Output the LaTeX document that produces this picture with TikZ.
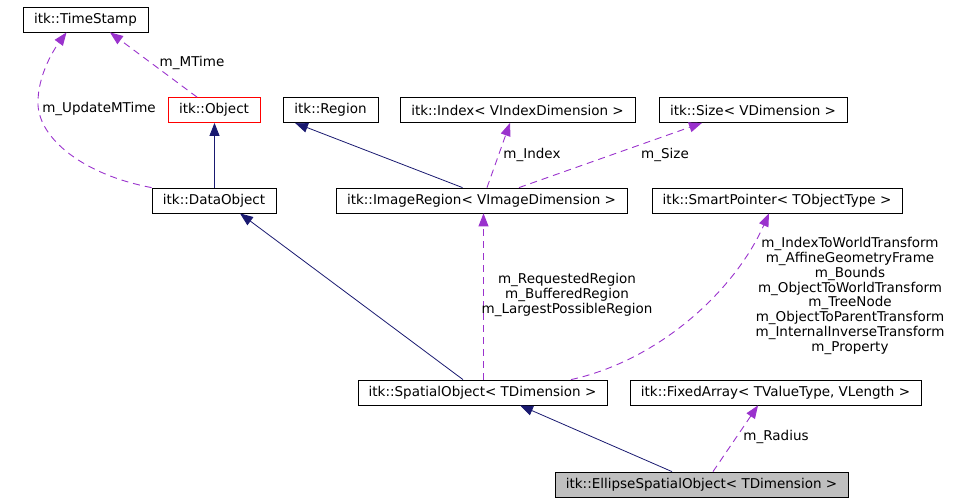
\documentclass[tikz,border=0pt]{standalone}
\usepackage{fontspec}
\setmainfont{DejaVu Sans}
\usepackage{tikz}
\usetikzlibrary{arrows.meta,positioning}
\definecolor{bleu}{HTML}{191970}
\definecolor{mauve}{HTML}{9A32CD}
\definecolor{rouge}{HTML}{FF0000}
\definecolor{gris}{HTML}{BFBFBF}

\begin{document}
\begin{tikzpicture}[x=1pt,y=-1pt,
  n/.style={draw,line width=0.8pt,fill=white,font=\fontsize{13.5}{15}\selectfont,inner xsep=2pt,inner ysep=0pt,minimum height=25pt},
  lab/.style={font=\fontsize{13.5}{14.85}\selectfont,align=center,inner sep=0pt,text=black},
  inh/.style={-{Triangle[length=13pt,width=10pt]},bleu,line width=0.8pt},
  use/.style={-{Triangle[length=13pt,width=10pt]},mauve,line width=0.9pt,dash pattern=on 7pt off 5pt}]
  \useasboundingbox (0,0) rectangle (971,501);
  % ---- rangee 1
  \node[n,minimum width=125pt] (ts) at (85.5,19.5) {itk::TimeStamp};
  \node[n,draw=rouge,minimum width=92pt] (obj) at (214,110) {itk::Object};
  \node[n,minimum width=95pt] (reg) at (330.5,110) {itk::Region};
  \node[n,minimum width=235pt] (idx) at (517.5,110) {itk::Index< VIndexDimension >};
  \node[n,minimum width=188pt] (size) at (753,110) {itk::Size< VDimension >};
  % ---- rangee 2
  \node[n,minimum width=124pt] (dobj) at (214,200.5) {itk::DataObject};
  \node[n,minimum width=291pt] (ireg) at (481.5,200.5) {itk::ImageRegion< VImageDimension >};
  \node[n,minimum width=250pt] (sp) at (777,200.5) {itk::SmartPointer< TObjectType >};
  % ---- rangee 3
  \node[n,minimum width=249pt] (sobj) at (482.5,392.5) {itk::SpatialObject< TDimension >};
  \node[n,minimum width=291pt] (farr) at (775.5,392.5) {itk::FixedArray< TValueType, VLength >};
  \node[n,fill=gris,minimum width=293pt] (ell) at (701.5,484.5) {itk::EllipseSpatialObject< TDimension >};
  % ---- heritage
  \draw[inh] ([xshift=0.5pt]dobj.north) -- ([xshift=0.5pt]obj.south);
  \draw[inh] ([xshift=-19pt]ireg.north) -- ([xshift=-35.5pt]reg.south);
  \draw[inh] ([xshift=-19.5pt]sobj.north) -- ([xshift=26pt]dobj.south);
  \draw[inh] ([xshift=-29.5pt]ell.north) -- ([xshift=37.5pt]sobj.south);
  % ---- membres
  \draw[use] ([xshift=-17pt]obj.north) -- ([xshift=24.5pt]ts.south);
  \node[lab] (lmt) at (192,63) {m\_MTime};
  \draw[use] (dobj.north west) .. controls (85,175) and (40,140) .. (38,105)
    .. controls (37,75) and (55,48) .. ([xshift=-19pt]ts.south);
  \node[lab] (lumt) at (99,109) {m\_UpdateMTime};
  \draw[use] ([xshift=5.5pt]ireg.north) -- ([xshift=-7.5pt]idx.south);
  \node[lab] (lidx) at (532,155) {m\_Index};
  \draw[use] ([xshift=37.5pt]ireg.north) -- ([xshift=-51pt]size.south);
  \node[lab] (lsize) at (665,155) {m\_Size};
  \draw[use] ([xshift=1pt]sobj.north) -- ([xshift=2pt]ireg.south);
  \node[lab] (lreg) at (567,295) {m\_RequestedRegion\\m\_BufferedRegion\\m\_LargestPossibleRegion};
  \draw[use] ([xshift=88.5pt]sobj.north) .. controls (660,360) and (735,290) .. ([xshift=-8pt]sp.south);
  \node[lab] (lsp) at (850,296) {m\_IndexToWorldTransform\\m\_AffineGeometryFrame\\m\_Bounds\\m\_ObjectToWorldTransform\\m\_TreeNode\\m\_ObjectToParentTransform\\m\_InternalInverseTransform\\m\_Property};
  \draw[use] ([xshift=11.5pt]ell.north) -- ([xshift=-17.5pt]farr.south);
  \node[lab] (lrad) at (776,437) {m\_Radius};
\end{tikzpicture}
\end{document}
